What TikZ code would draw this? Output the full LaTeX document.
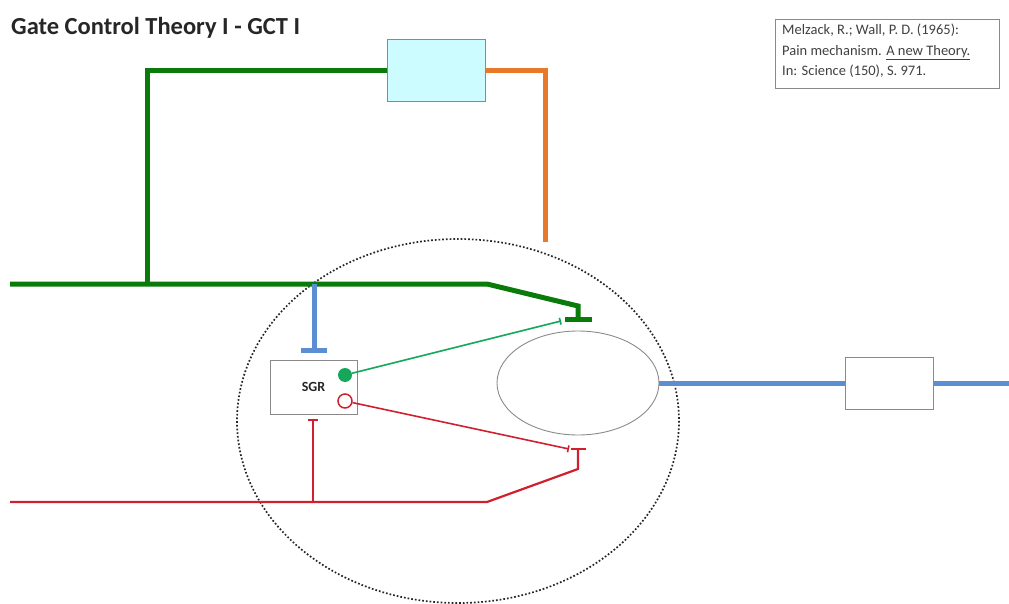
\documentclass[tikz,border=0pt]{standalone}
\usepackage{fontspec}
\setmainfont{Carlito}
\usetikzlibrary{arrows.meta,shapes.geometric}
\definecolor{dgreen}{HTML}{0A7A0A}
\definecolor{lgreen}{HTML}{16A85A}
\definecolor{orng}{HTML}{E8782A}
\definecolor{blu}{HTML}{5B8ED2}
\definecolor{rd}{HTML}{D0202E}
\definecolor{cyanfill}{HTML}{CCFCFF}
\definecolor{boxgray}{HTML}{8A8A8A}
\tikzset{
  box/.style={draw=boxgray, line width=1pt, inner sep=0pt},
  thickgreen/.style={draw=dgreen, line width=5pt},
  thickorange/.style={draw=orng, line width=5pt},
  thickblue/.style={draw=blu, line width=5pt},
  redline/.style={draw=rd, line width=2.2pt},
  thinred/.style={draw=rd, line width=1.6pt},
  thingreen/.style={draw=lgreen, line width=1.6pt},
}
\begin{document}
\begin{tikzpicture}[x=1pt,y=-1pt]
\useasboundingbox (0,0) rectangle (1009,604);
% title
\node[anchor=base west, inner sep=0pt, font=\fontsize{24.5}{26}\selectfont\bfseries, text=black!85] (title) at (11,35) {Gate Control Theory I - GCT I};
% reference box
\node[box, minimum width=224pt, minimum height=69pt] (ref) at (887,54.5) {};
\node[anchor=base west, inner sep=0pt, align=left, font=\fontsize{14.5}{20.5}\selectfont, text=black!75] (reftext) at (782,76)
 {Melzack, R.; Wall, P. D. (1965):\\ Pain mechanism. \underline{A new Theory.}\\ In: Science (150), S. 971.};
% dotted circle
\draw[black!85, line width=1.7pt, dotted] (458,421) ellipse [x radius=221, y radius=182];
% nodes
\node[box, fill=cyanfill, minimum width=98pt, minimum height=62pt] (cbox) at (436,71) {};
\node[box, minimum width=87pt, minimum height=54pt, font=\fontsize{14}{16}\selectfont\bfseries, text=black!85] (sgr) at (313.5,387) {SGR};
\node[draw=boxgray, line width=0.9pt, ellipse, minimum width=162pt, minimum height=104pt] (soma) at (578,383) {};
\node[box, minimum width=88pt, minimum height=52pt] (obox) at (889,383) {};
% coordinates
\coordinate (gL) at (10,284);
\coordinate (gJ) at (147,284);
\coordinate (gK) at (487,284);
\coordinate (gD) at (578,306);
\coordinate (gT) at (578,322);
\coordinate (bJ) at (314,284);
\coordinate (bT) at (314,353);
\coordinate (oT) at (545,242);
\coordinate (rL) at (10,502);
\coordinate (rJ) at (313,502);
\coordinate (rK) at (487,502);
\coordinate (rD) at (578,469);
\coordinate (rT) at (578,448);
\coordinate (rS) at (313,419);
\coordinate (gS) at (561,321);
\coordinate (rE) at (569,449);
\coordinate (oR) at (1009,383);
% green thick path
\draw[thickgreen] (cbox.west) -- (147,71) -- (gJ);
\draw[thickgreen, -{Bar[width=27pt, line width=5pt]}] (gL) -- (gK) -- (gD) -- (gT);
% orange
\draw[thickorange] (cbox.east) -- (545,71) -- (oT);
% blue inhibitory
\draw[thickblue, -{Bar[width=26pt, line width=5pt]}] (bJ) -- (bT);
% blue output
\draw[thickblue] (soma.east) -- (obox.west);
\draw[thickblue] (obox.east) -- (oR);
% red
\draw[redline, -{Bar[width=15pt, line width=2.2pt]}] (rL) -- (rK) -- (rD) -- (rT);
\draw[redline, -{Bar[width=10pt, line width=2pt]}] (rJ) -- (rS);
% SGR outputs
\node[circle, fill=lgreen, inner sep=0pt, minimum size=14pt] (gc) at (345,375) {};
\node[circle, draw=rd, fill=white, line width=1.5pt, inner sep=0pt, minimum size=14pt] (rc) at (345,401) {};
\draw[thingreen, -{Bar[width=7pt, line width=1.6pt]}] (gc) -- (gS);
\draw[thinred, -{Bar[width=7pt, line width=1.6pt]}] (rc) -- (rE);
\end{tikzpicture}
\end{document}
